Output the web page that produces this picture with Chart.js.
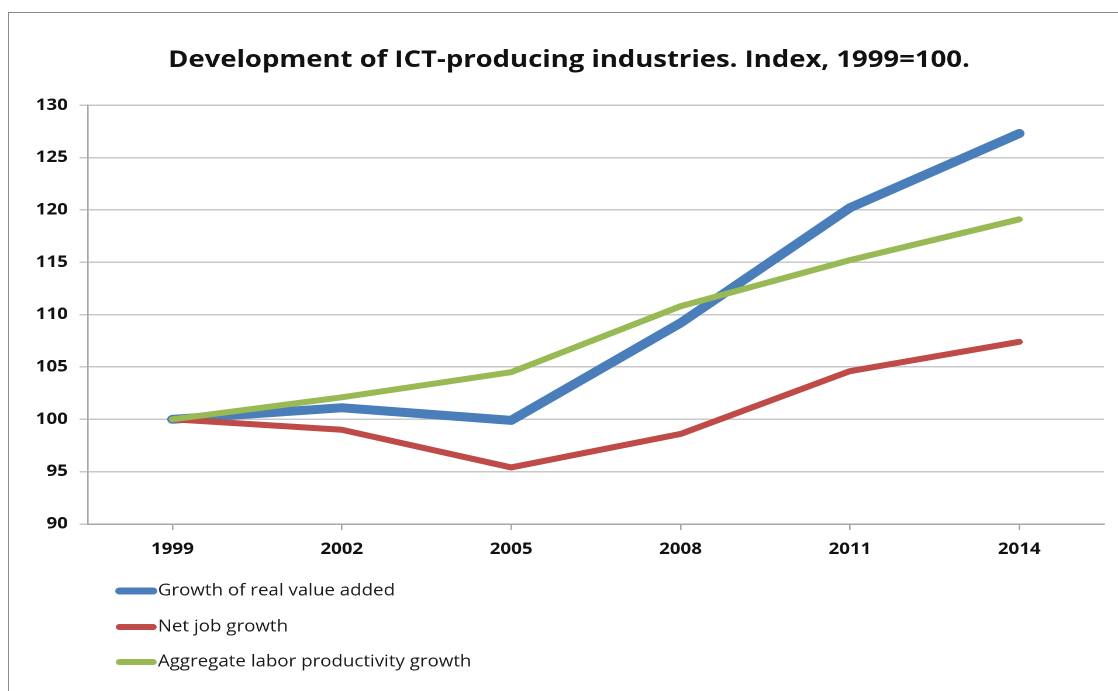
<!DOCTYPE html>
<html>
<head>
<meta charset="utf-8">
<script src="https://cdn.jsdelivr.net/npm/chart.js@4.4.0/dist/chart.umd.min.js"></script>
<style>
  html, body { margin: 0; padding: 0; background: #fff; overflow: hidden; }
  #frame {
    position: absolute; left: 8px; top: 12px;
    width: 1300px; height: 900px;
    border: 1.5px solid #8a8a8a;
  }
  #ictChart { position: absolute; left: 0; top: 0; }
</style>
</head>
<body>
<div id="frame"></div>
<!-- lienzo de 956 px de ancho estirado a 1118 px (texto ancho, como en Excel) -->
<canvas id="ictChart" width="956" height="691" style="width:1118px;height:691px"></canvas>
<script>
// --- Datos ---
const years = ["1999", "2002", "2005", "2008", "2011", "2014"];
const valueAdded   = [100, 101.1, 99.9, 109.2, 120.2, 127.3];
const jobGrowth    = [100, 99.0, 95.4, 98.6, 104.6, 107.4];
const productivity = [100, 102.1, 104.5, 110.8, 115.2, 119.1];
const yTicks = [90, 95, 100, 105, 110, 115, 120, 125, 130];

const FONT = "'Open Sans', 'Liberation Sans', sans-serif";

// Leyenda vertical dibujada a mano debajo del gráfico
const stackedLegend = {
    id: "stackedLegend",
    afterDraw(chart) {
        const c = chart.ctx;
        const x0 = 99, x1 = 134;
        const rows = [591, 627, 662];
        c.save();
        chart.data.datasets.forEach((ds, i) => {
            const y = rows[i];
            c.strokeStyle = ds.borderColor;
            c.lineWidth = i === 0 ? 7 : 6;
            c.lineCap = "round";
            c.beginPath();
            c.moveTo(x0 + 3, y);
            c.lineTo(x1 - 3, y);
            c.stroke();
            c.fillStyle = "#1a1a1a";
            c.font = "16px " + FONT;
            c.textBaseline = "middle";
            c.textAlign = "left";
            c.fillText(ds.label, x1 + 1, y);
        });
        c.restore();
    }
};

const ctx = document.getElementById("ictChart").getContext("2d");

new Chart(ctx, {
    type: "line",
    data: {
        labels: years,
        datasets: [
            {
                label: "Growth of real value added",
                data: valueAdded,
                borderColor: "#4a7ebb",
                borderWidth: 9,
                order: 2
            },
            {
                label: "Net job growth",
                data: jobGrowth,
                borderColor: "#be4b48",
                borderWidth: 6,
                order: 1
            },
            {
                label: "Aggregate labor productivity growth",
                data: productivity,
                borderColor: "#98b954",
                borderWidth: 6,
                order: 0
            }
        ]
    },
    options: {
        responsive: false,
        devicePixelRatio: 2,
        animation: false,
        // el margen izquierdo desplaza el título; el eje Y ocupa el resto hasta x=75
        layout: { padding: { top: 0, left: 29, right: 12, bottom: 125 } },
        elements: {
            point: { radius: 0, hoverRadius: 0 },
            line: { tension: 0, borderCapStyle: "round", borderJoinStyle: "round", fill: false }
        },
        scales: {
            x: {
                offset: true,
                afterFit: (scale) => { scale.height = 42; },
                grid: {
                    drawOnChartArea: false,
                    drawTicks: true,
                    tickLength: 6,
                    color: "#a6a6a6",
                    lineWidth: 1.3
                },
                border: { display: true, color: "#a6a6a6", width: 1.5 },
                ticks: {
                    padding: 10,
                    color: "#111",
                    font: { family: FONT, size: 16, weight: "bold" }
                }
            },
            y: {
                min: 90,
                max: 130,
                afterFit: (scale) => { scale.width = 46; },
                afterBuildTicks: (scale) => { scale.ticks = yTicks.map(v => ({ value: v })); },
                grid: {
                    color: "#c8c8c8",
                    lineWidth: 1.5,
                    tickLength: 7
                },
                border: { display: true, color: "#a6a6a6", width: 1.3 },
                ticks: {
                    padding: 10,
                    color: "#111",
                    font: { family: FONT, size: 16, weight: "bold" }
                }
            }
        },
        plugins: {
            legend: { display: false },
            tooltip: { enabled: false },
            title: {
                display: true,
                text: "Development of ICT-producing industries. Index, 1999=100.",
                color: "#111",
                font: { family: FONT, size: 23.5, weight: "bold", lineHeight: 1.2 },
                padding: { top: 46, bottom: 31 }
            }
        }
    },
    plugins: [stackedLegend]
});
</script>
</body>
</html>
